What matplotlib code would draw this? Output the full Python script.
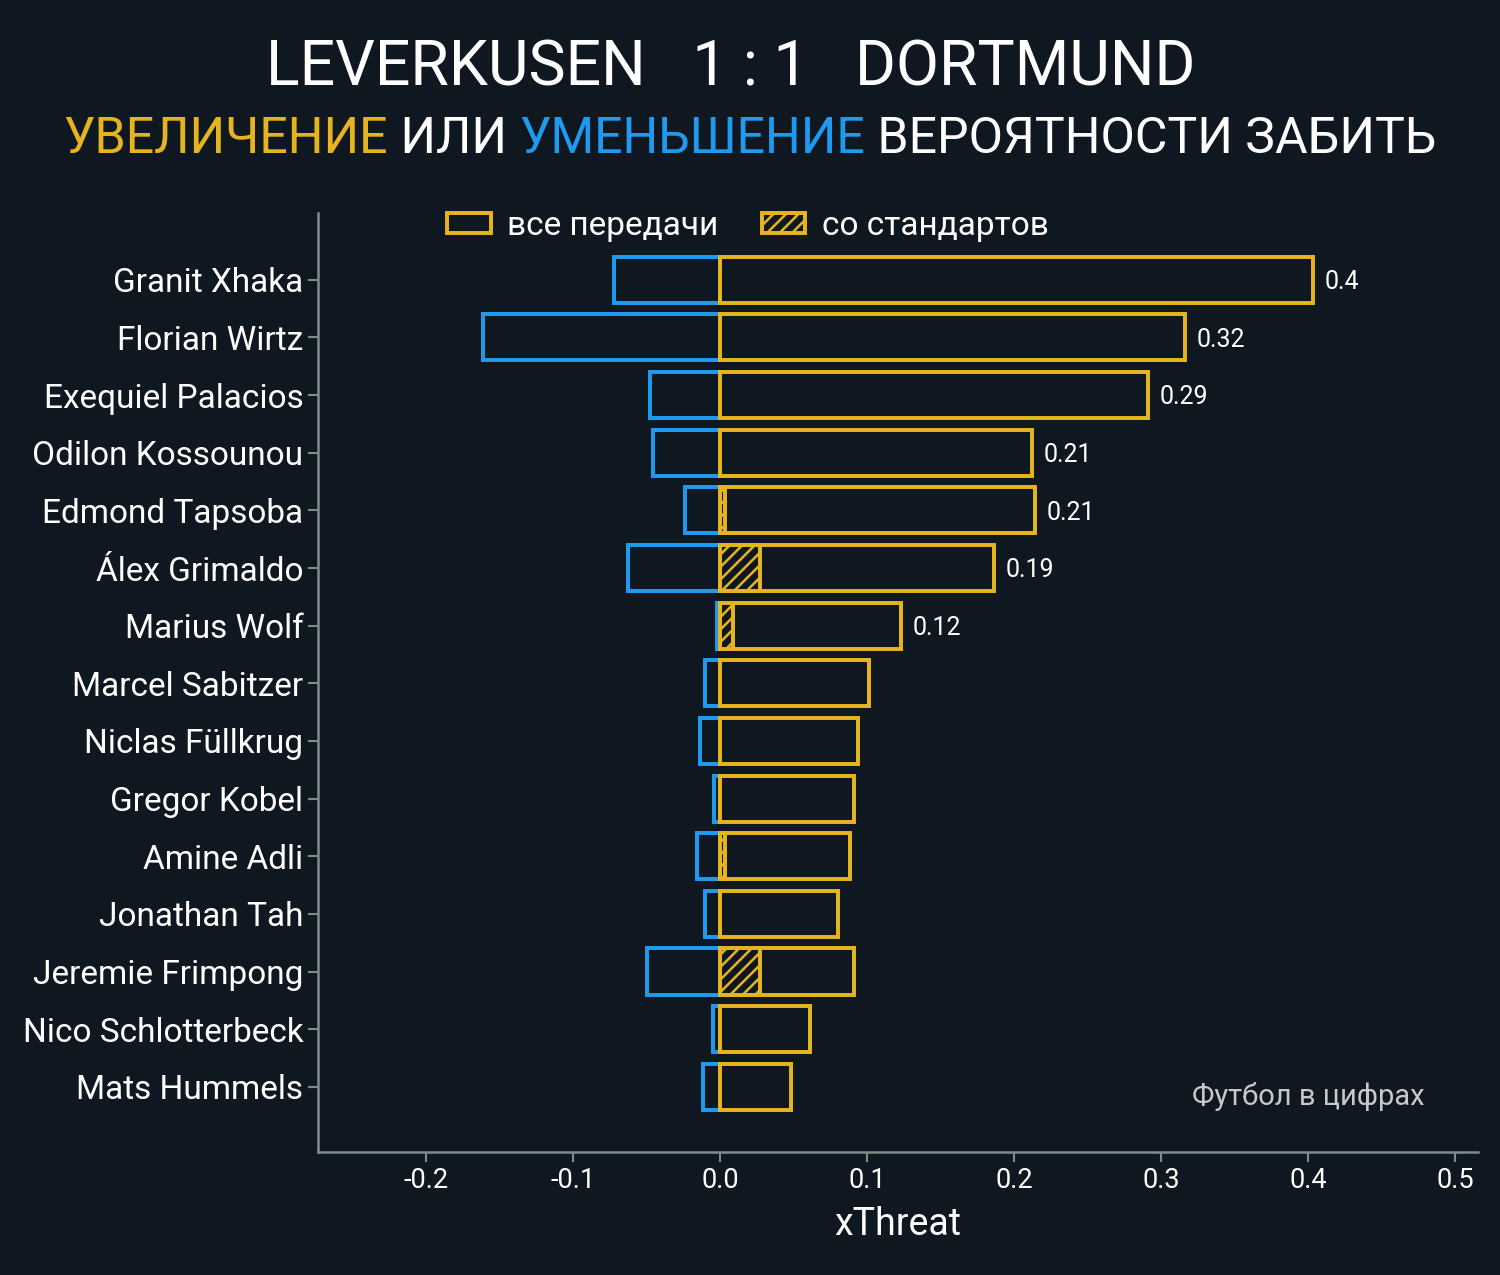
import matplotlib
matplotlib.use("Agg")
import matplotlib.pyplot as plt
from matplotlib.patches import Patch

players = ["Granit Xhaka", "Florian Wirtz", "Exequiel Palacios", "Odilon Kossounou",
           "Edmond Tapsoba", "Álex Grimaldo", "Marius Wolf", "Marcel Sabitzer",
           "Niclas Füllkrug", "Gregor Kobel", "Amine Adli", "Jonathan Tah",
           "Jeremie Frimpong", "Nico Schlotterbeck", "Mats Hummels"]
positive = [0.403, 0.316, 0.291, 0.212, 0.214, 0.186, 0.123, 0.101,
            0.094, 0.091, 0.088, 0.080, 0.091, 0.061, 0.048]
negative = [-0.072, -0.161, -0.048, -0.046, -0.024, -0.063, -0.002, -0.010,
            -0.014, -0.004, -0.016, -0.010, -0.050, -0.005, -0.012]
set_piece = [0.0, 0.0, 0.0, 0.0, 0.003, 0.027, 0.009, 0.0,
             0.0, 0.0, 0.003, 0.0, 0.027, 0.0, 0.0]
label_threshold = 0.115
xticks = [-0.2, -0.1, 0.0, 0.1, 0.2, 0.3, 0.4, 0.5]

BG = "#0f1820"
YEL = "#e6b41e"
BLUE = "#1e9bf0"
GREY = "#7d8c8a"
FONT = ["Roboto", "DejaVu Sans"]

plt.rcParams["font.family"] = FONT
plt.rcParams["hatch.color"] = YEL
plt.rcParams["hatch.linewidth"] = 1.2

fig = plt.figure(figsize=(10, 8.5), dpi=150, facecolor=BG)
ax = fig.add_axes([0.212, 0.0965, 0.773, 0.7365], facecolor=BG)

y = list(range(len(players)))
h = 0.8
LW = 1.9
ax.barh(y, negative, height=h, facecolor="none", edgecolor=BLUE, linewidth=LW)
ax.barh(y, positive, height=h, facecolor="none", edgecolor=YEL, linewidth=LW)
ax.barh(y, set_piece, height=h, facecolor="none", edgecolor=YEL, linewidth=LW, hatch="////")

for yi, v in zip(y, positive):
    if v >= label_threshold:
        ax.text(v + 0.008, yi + 0.04, f"{round(v, 2):g}", va="center", ha="left",
                color="white", fontsize=12)

ax.set_yticks(y)
ax.set_yticklabels(players, fontsize=16, color="white")
ax.set_ylim(len(players) - 1 + 1.13, -1.16)
ax.set_xlim(-0.2735, 0.515)
ax.set_xticks(xticks)
ax.set_xticklabels([f"{t:.1f}" for t in xticks], fontsize=13, color="white")
ax.tick_params(axis="both", colors=GREY, labelcolor="white", length=5, width=1)
ax.tick_params(axis="x", pad=2)
ax.tick_params(axis="y", pad=2)
ax.set_xlabel("xThreat", fontsize=18, color="white", labelpad=6)
for s in ["top", "right"]:
    ax.spines[s].set_visible(False)
for s in ["left", "bottom"]:
    ax.spines[s].set_color(GREY)
    ax.spines[s].set_linewidth(1.2)

handles = [Patch(facecolor="none", edgecolor=YEL, linewidth=LW, label="все передачи"),
           Patch(facecolor="none", edgecolor=YEL, linewidth=LW, hatch="////", label="со стандартов")]
leg = ax.legend(handles=handles, loc="upper center", bbox_to_anchor=(0.371, 1.035), ncol=2,
                frameon=False, fontsize=16, labelcolor="white", handlelength=1.3,
                handleheight=0.55, columnspacing=1.3, handletextpad=0.5)

ax.text(0.854, 0.059, "Футбол в цифрах", transform=ax.transAxes, ha="center",
        va="center", fontsize=14, color="#c8c8c8")

fig.text(0.487, 0.946, "LEVERKUSEN   1 : 1   DORTMUND", ha="center", va="center",
         fontsize=30, color="white")

parts = [("УВЕЛИЧЕНИЕ", YEL), (" ИЛИ ", "white"), ("УМЕНЬШЕНИЕ", BLUE),
         (" ВЕРОЯТНОСТИ ЗАБИТЬ", "white")]
fig.canvas.draw()
r = fig.canvas.get_renderer()
texts = []
total = 0
for s, c in parts:
    t = fig.text(0, 0.891, s, ha="left", va="center", fontsize=24, color=c)
    w = t.get_window_extent(renderer=r).width
    texts.append((t, w))
    total += w
W = fig.get_figwidth() * fig.dpi
x0 = (W - total) / 2
for t, w in texts:
    t.set_x(x0 / W)
    x0 += w

fig.savefig("out.png", dpi=150, facecolor=BG)
